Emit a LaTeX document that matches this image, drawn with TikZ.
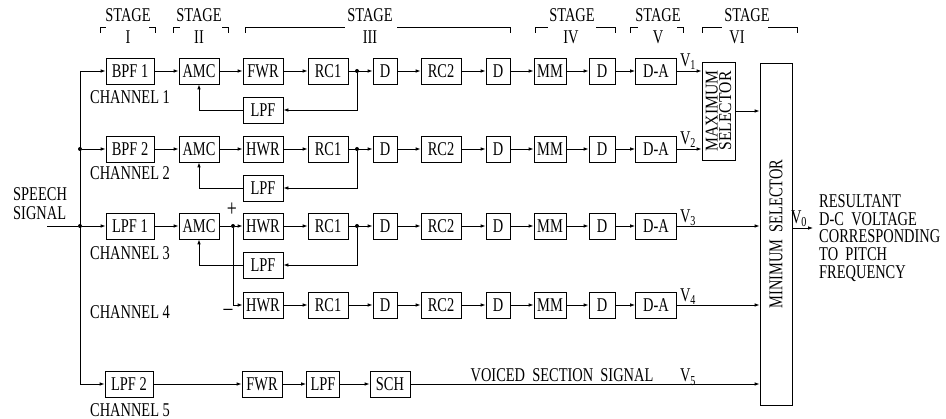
\documentclass[tikz,border=0pt]{standalone}
\usepackage{fontspec}
\setmainfont[FakeStretch=0.74]{Liberation Serif}
\newfontfamily\widefont[FakeStretch=0.87]{Liberation Serif}
\usetikzlibrary{arrows.meta}
\begin{document}
\begin{tikzpicture}[x=1pt,y=-1pt,
  font=\fontsize{19.5}{20}\selectfont,
  blk/.style={draw, line width=0.8pt, minimum height=26pt, inner sep=0pt},
  con/.style={line width=0.8pt, -{Latex[length=5pt,width=3.6pt]}},
  ln/.style={line width=0.8pt},
  brk/.style={line width=0.8pt},
  jdot/.style={circle, fill, inner sep=0pt, minimum size=4pt},
  lbl/.style={inner sep=0pt}]
\useasboundingbox (0,0) rectangle (946,419);

% ---- stage labels ----
\node[lbl] (s1) at (128,15) {STAGE};
\node[lbl] (r1) at (128,37) {I};
\node[lbl] (s2) at (199,15) {STAGE};
\node[lbl] (r2) at (199,37) {II};
\node[lbl] (s3) at (370,15) {STAGE};
\node[lbl] (r3) at (370,37) {III};
\node[lbl] (s4) at (572,15) {STAGE};
\node[lbl] (r4) at (571,37) {IV};
\node[lbl] (s5) at (658,15) {STAGE};
\node[lbl] (r5) at (658,37) {V};
\node[lbl] (s6) at (747,15) {STAGE};
\node[lbl] (r6) at (737,37) {VI};
\draw[brk] (100,33)--(100,27)--(106,27) (149,27)--(155,27)--(155,33);
\draw[brk] (173,33)--(173,27)--(180,27) (222,27)--(228,27)--(228,33);
\draw[brk] (245,33)--(245,27)--(345,27) (397,27)--(510,27)--(510,33);
\draw[brk] (535,33)--(535,27)--(548,27) (596,27)--(615,27)--(615,33);
\draw[brk] (630,33)--(630,27)--(638,27) (677,27)--(683,27)--(683,33);
\draw[brk] (702,33)--(702,27)--(722,27) (768,27)--(797,27)--(797,33);

% ---- front blocks ----
\node[blk,minimum width=48pt] (f1) at (130,71) {BPF 1};
\node[blk,minimum width=48pt] (f2) at (130,149) {BPF 2};
\node[blk,minimum width=48pt] (f3) at (130,226) {LPF 1};
\node[blk,minimum width=48pt] (f5) at (129,384) {LPF 2};
\node[blk,minimum width=40pt] (a1) at (199,71) {AMC};
\node[blk,minimum width=40pt] (a2) at (199,149) {AMC};
\node[blk,minimum width=40pt] (a3) at (199,226) {AMC};
\node[blk,minimum width=40pt] (l1) at (263,110) {LPF};
\node[blk,minimum width=40pt] (l2) at (263,188) {LPF};
\node[blk,minimum width=40pt] (l3) at (263,265) {LPF};

% ---- channel chains ----
\foreach \r/\y/\fn in {1/71/FWR, 2/149/HWR, 3/226/HWR, 4/305/HWR}{
  \node[blk,minimum width=40pt] (w\r) at (263,\y) {\fn};
  \node[blk,minimum width=40pt] (rca\r) at (328,\y) {RC1};
  \node[blk,minimum width=24pt] (da\r) at (385,\y) {D};
  \node[blk,minimum width=40pt] (rcb\r) at (441,\y) {RC2};
  \node[blk,minimum width=24pt] (db\r) at (498,\y) {D};
  \node[blk,minimum width=32pt] (mm\r) at (550,\y) {MM};
  \node[blk,minimum width=26pt] (dc\r) at (602,\y) {D};
  \node[blk,minimum width=41pt] (dac\r) at (656,\y) {D-A};
  \draw[con] (w\r) -- (rca\r);
  \draw[con] (rca\r) -- (da\r);
  \draw[con] (da\r) -- (rcb\r);
  \draw[con] (rcb\r) -- (db\r);
  \draw[con] (db\r) -- (mm\r);
  \draw[con] (mm\r) -- (dc\r);
  \draw[con] (dc\r) -- (dac\r);
}

% ---- row 5 ----
\node[blk,minimum width=40pt] (fw5) at (262,384) {FWR};
\node[blk,minimum width=33pt] (lp5) at (323,384) {LPF};
\node[blk,minimum width=40pt] (sch) at (390,384) {SCH};

% ---- selectors ----
\node[draw, line width=0.8pt, minimum width=33pt, minimum height=98pt, inner sep=0pt] (mx) at (718.5,111) {};
\node[lbl, rotate=90, align=center, font=\widefont\fontsize{18}{13.5}\selectfont] (mxt) at (mx.center) {MAXIMUM\\SELECTOR};
\node[draw, line width=0.8pt, minimum width=32pt, minimum height=342pt, inner sep=0pt] (mn) at (776,234) {};
\node[lbl, rotate=90] (mnt) at (mn.center) {MINIMUM\ \ SELECTOR};

% ---- bus and inputs ----
\coordinate (bt) at (80,71);
\node[jdot] (b2) at (80,149) {};
\node[jdot] (b3) at (80,226) {};
\coordinate (sin) at (47,226);
\draw[ln] (sin) -- (b3);
\draw[con] (bt) -- (f1);
\draw[con] (bt) |- (f5);
\draw[con] (b2) -- (f2);
\draw[con] (b3) -- (f3);

% ---- rows 1-3 front connections ----
\draw[con] (f1) -- (a1);
\draw[con] (f2) -- (a2);
\draw[con] (f3) -- (a3);
\draw[con] (a1) -- (w1);
\draw[con] (a2) -- (w2);
\node[jdot] (j0) at (233,226) {};
\draw[ln] (a3) -- (j0);
\draw[con] (j0) -- (w3);
\draw[con] (j0) |- (w4);
\node[lbl, font=\fontsize{24}{24}\selectfont] (plus) at (232,210) {+};
\node[lbl, font=\fontsize{24}{24}\selectfont] (minus) at (228,312) {\textendash};

\foreach \r/\y in {1/71, 2/149, 3/226}{
  \node[jdot] (j\r) at (357,\y) {};
  \draw[con] (j\r) |- (l\r);
  \draw[con] (l\r) -| (a\r);
}

% ---- row 5 connections ----
\draw[con] (f5) -- (fw5);
\draw[con] (fw5) -- (lp5);
\draw[con] (lp5) -- (sch);
\draw[con] (sch.east) -- (sch.east -| mn.west);

% ---- to selectors ----
\draw[con] (dac1.east) -- (dac1.east -| mx.west);
\draw[con] (dac2.east) -- (dac2.east -| mx.west);
\draw[con] (mx.east) -- (mx.east -| mn.west);
\draw[con] (dac3.east) -- (dac3.east -| mn.west);
\draw[con] (dac4.east) -- (dac4.east -| mn.west);
\coordinate (out) at (813,228);
\draw[con] (mn.east |- out) -- (out);

% ---- labels ----
\node[lbl] (v1) at (688,62) {V\textsubscript{1}};
\node[lbl] (v2) at (688,140) {V\textsubscript{2}};
\node[lbl] (v3) at (688,218) {V\textsubscript{3}};
\node[lbl] (v4) at (688,297) {V\textsubscript{4}};
\node[lbl, anchor=base] (v5) at (688,382) {V\textsubscript{5}};
\node[lbl] (v0) at (799,219) {V\textsubscript{0}};
\node[lbl, anchor=base] (vss) at (562,382) {VOICED\ \ SECTION\ \ SIGNAL};

\node[lbl, anchor=west] (c1) at (90,97) {CHANNEL 1};
\node[lbl, anchor=west] (c2) at (90,173) {CHANNEL 2};
\node[lbl, anchor=west] (c3) at (90,253) {CHANNEL 3};
\node[lbl, anchor=west] (c4) at (90,312) {CHANNEL 4};
\node[lbl, anchor=west] (c5) at (90,410) {CHANNEL 5};

\node[lbl, anchor=west, align=left, font=\fontsize{19.5}{19}\selectfont] (sp) at (13,204) {SPEECH\\SIGNAL};
\node[lbl, anchor=west, align=left, font=\fontsize{19.5}{17.8}\selectfont] (res) at (819,238) {RESULTANT\\D-C\ \ VOLTAGE\\CORRESPONDING\\TO\ \ PITCH\\FREQUENCY};
\end{tikzpicture}
\end{document}
